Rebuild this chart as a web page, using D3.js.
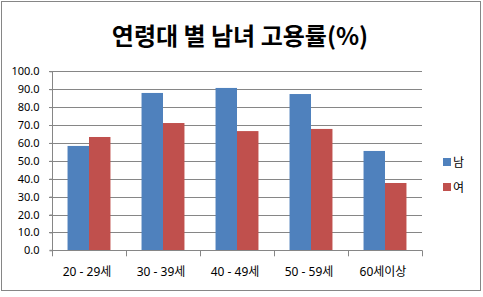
<!DOCTYPE html>
<html><head><meta charset="utf-8">
<script src="https://cdn.jsdelivr.net/npm/d3@7"></script>
<style>
body{margin:0;background:#fff;}
text{font-family:"Noto Sans","Noto Sans CJK KR",sans-serif;}
</style></head>
<body><svg id="c" width="483" height="297"></svg>
<script>
const title = "연령대 별 남녀 고용률(%)";
const categories = ["20 - 29세","30 - 39세","40 - 49세","50 - 59세","60세이상"];
const seriesNames = ["남","여"];
const male = [58.3, 87.9, 90.7, 87.3, 55.5];
const female = [63.3, 71.1, 66.6, 67.8, 37.6];
const yTicks = [0,10,20,30,40,50,60,70,80,90,100];
const colors = ["#4F81BD","#C0504D"];

const svg = d3.select("#c");
svg.append("rect").attr("x",1.5).attr("y",1.5).attr("width",479).attr("height",289)
  .attr("fill","#fff").attr("stroke","#868686").attr("stroke-width",1);

svg.append("text").attr("x",240).attr("y",45).attr("text-anchor","middle")
  .attr("font-size",24).attr("font-weight","bold")
  .style("font-family","'Noto Sans CJK KR',sans-serif").text(title);

const L=52, R=422, T=71.3, B=250.3;
const x = d3.scaleBand().domain(categories).range([L,R]).paddingInner(0.42).paddingOuter(0.21);
const xs = d3.scaleBand().domain(seriesNames).range([0,x.bandwidth()]);
const y = d3.scaleLinear().domain([0,100]).range([B,T]);

// gridlines
svg.append("g").selectAll("line").data(yTicks.filter(d=>d>0)).join("line")
  .attr("x1",L-3).attr("x2",R).attr("y1",d=>Math.round(y(d))+0.5).attr("y2",d=>Math.round(y(d))+0.5)
  .attr("stroke","#868686");

// y axis
const yAxis = svg.append("g").attr("transform",`translate(${L+0.5},0)`)
  .call(d3.axisLeft(y).tickValues(yTicks).tickFormat(d3.format(".1f")).tickSize(3).tickPadding(10));
yAxis.select(".domain").attr("stroke","#868686").attr("d",`M-3,${B}H0V${T}`);
yAxis.selectAll(".tick line").attr("stroke","#868686");
yAxis.selectAll("text").attr("font-size",11).attr("fill","#000")
  .style("font-family","'Noto Sans',sans-serif");

// bars
const data = categories.map((c,i)=>({c, vals:[male[i],female[i]]}));
const g = svg.append("g").selectAll("g").data(data).join("g")
  .attr("transform",d=>`translate(${x(d.c)},0)`);
g.selectAll("rect").data(d=>d.vals.map((v,j)=>({v,s:seriesNames[j],j}))).join("rect")
  .attr("x",d=>xs(d.s)).attr("width",xs.bandwidth())
  .attr("y",d=>y(d.v)).attr("height",d=>B-y(d.v))
  .attr("fill",d=>colors[d.j]);

// x axis
const step = (R-L)/categories.length;
const xb = svg.append("g");
xb.append("line").attr("x1",L).attr("x2",R).attr("y1",Math.round(B)+0.5).attr("y2",Math.round(B)+0.5).attr("stroke","#868686");
xb.selectAll("line.t").data(d3.range(categories.length+1)).join("line").attr("class","t")
  .attr("x1",i=>Math.round(L+i*step)+0.5).attr("x2",i=>Math.round(L+i*step)+0.5)
  .attr("y1",B).attr("y2",B+6).attr("stroke","#868686");
xb.selectAll("text").data(categories).join("text")
  .attr("x",d=>x(d)+x.bandwidth()/2-2).attr("y",276).attr("text-anchor","middle")
  .attr("font-size",12).attr("fill","#000").text(d=>d);

// legend
const lg = svg.append("g").selectAll("g").data(seriesNames).join("g")
  .attr("transform",(d,i)=>`translate(443,${158+i*25})`);
lg.append("rect").attr("width",8).attr("height",8).attr("fill",(d,i)=>colors[i]);
lg.append("text").attr("x",10).attr("y",9).attr("font-size",12).attr("fill","#000").text(d=>d);
</script></body></html>
